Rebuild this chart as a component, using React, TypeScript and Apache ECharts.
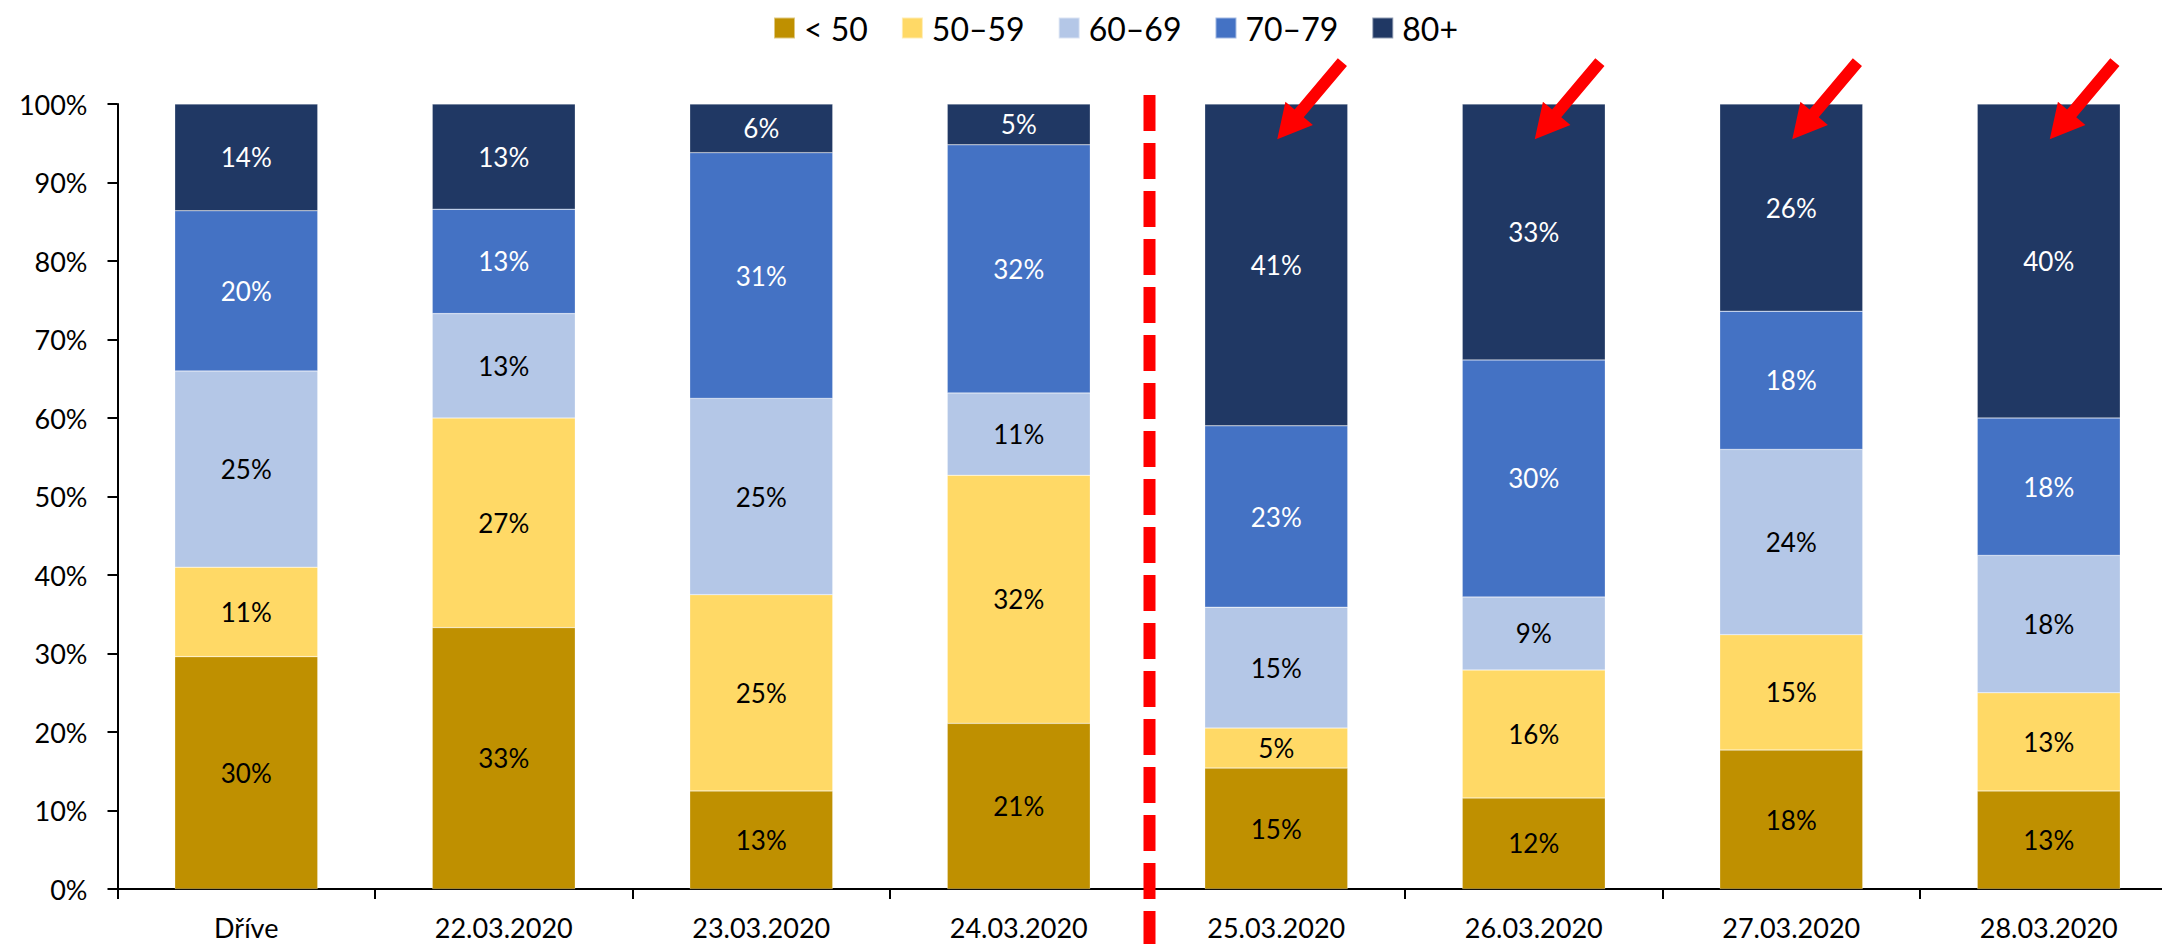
import React, { useEffect, useRef } from "react";
import * as echarts from "echarts";

const categories = ["Dříve", "22.03.2020", "23.03.2020", "24.03.2020", "25.03.2020", "26.03.2020", "27.03.2020", "28.03.2020"];
const seriesNames = ["< 50", "50–59", "60–69", "70–79", "80+"];
const lt50 = [29.6, 33.3, 12.5, 21.1, 15.4, 11.6, 17.7, 12.5];
const s5059 = [11.4, 26.7, 25.0, 31.6, 5.1, 16.3, 14.7, 12.5];
const s6069 = [25.0, 13.3, 25.0, 10.5, 15.4, 9.3, 23.6, 17.5];
const s7079 = [20.4, 13.3, 31.3, 31.6, 23.1, 30.2, 17.6, 17.5];
const s80 = [13.6, 13.4, 6.2, 5.2, 41.0, 32.6, 26.4, 40.0];
const yTicks = [0, 10, 20, 30, 40, 50, 60, 70, 80, 90, 100];
const arrowCats = [4, 5, 6, 7];
const arrowValue = 95.5;
const dividerAfter = 3;

const colors = ["#BF9000", "#FFD966", "#B4C7E7", "#4472C4", "#203864"];
const labelColors = ["#000", "#000", "#000", "#fff", "#fff"];
const FONT = "Lato, 'Open Sans', sans-serif";

export default function App() {
  const ref = useRef<HTMLDivElement>(null);
  useEffect(() => {
    if (!ref.current) return;
    const chart = echarts.init(ref.current, null, { renderer: "svg" });
    const data = [lt50, s5059, s6069, s7079, s80];
    chart.setOption({
      animation: false,
      textStyle: { fontFamily: FONT },
      legend: {
        left: 773,
        top: 12,
        padding: 0,
        itemWidth: 21,
        itemHeight: 21,
        itemGap: 33,
        icon: "rect",
        textStyle: { fontSize: 32, color: "#000", fontFamily: FONT, padding: [0, 0, 0, 4] },
        data: seriesNames,
      },
      grid: { left: 117.5, top: 104, width: 2060, height: 785, containLabel: false, outerBoundsMode: "none" },
      xAxis: {
        type: "category",
        data: categories,
        axisLine: { lineStyle: { color: "#000", width: 2 } },
        axisTick: { show: true, length: 10, lineStyle: { color: "#000", width: 2 } },
        axisLabel: { fontSize: 27, color: "#000", margin: 25, fontFamily: FONT },
      },
      yAxis: {
        type: "value",
        min: 0,
        max: 100,
        interval: 10,
        splitLine: { show: false },
        axisLine: { show: true, lineStyle: { color: "#000", width: 2 } },
        axisTick: { show: true, length: 10, lineStyle: { color: "#000", width: 2 } },
        axisLabel: {
          fontSize: 27,
          color: "#000",
          margin: 30,
          fontFamily: FONT,
          formatter: (v: number) => (yTicks.includes(v) ? v + "%" : ""),
        },
      },
      series: seriesNames.map((name, i) => ({
        name,
        type: "bar",
        stack: "total",
        barWidth: 143,
        data: data[i],
        itemStyle: { color: colors[i], borderColor: "rgba(255,255,255,0.5)", borderWidth: 0.5 },
        label: {
          show: true,
          position: "inside",
          fontSize: 26,
          fontFamily: FONT,
          color: labelColors[i],
          formatter: (p: any) => Math.round(p.value) + "%",
        },
      })),
    });

    const graphics: any[] = [];
    const p3 = chart.convertToPixel({ gridIndex: 0 }, [dividerAfter, 0]) as number[];
    const p4 = chart.convertToPixel({ gridIndex: 0 }, [dividerAfter + 1, 0]) as number[];
    const dx = (p3[0] + p4[0]) / 2 + 2;
    graphics.push({
      type: "line",
      shape: { x1: dx, y1: 95, x2: dx, y2: 944 },
      style: { stroke: "#FF0000", lineWidth: 12, lineDash: [36, 12], lineCap: "butt" },
      z: 100,
    });

    const ux = 0.645, uy = -0.764;
    const nx = 0.764, ny = 0.645;
    const headLen = 34, headHalf = 18, shaftHalf = 6, totalLen = 101;
    arrowCats.forEach((c) => {
      const t = chart.convertToPixel({ gridIndex: 0 }, [c, arrowValue]) as number[];
      const tx = t[0] + 1, ty = t[1];
      const bx = tx + headLen * ux, by = ty + headLen * uy;
      const ex = tx + totalLen * ux, ey = ty + totalLen * uy;
      const pts = [
        [tx, ty],
        [bx + headHalf * nx, by + headHalf * ny],
        [bx + shaftHalf * nx, by + shaftHalf * ny],
        [ex + shaftHalf * nx, ey + shaftHalf * ny],
        [ex - shaftHalf * nx, ey - shaftHalf * ny],
        [bx - shaftHalf * nx, by - shaftHalf * ny],
        [bx - headHalf * nx, by - headHalf * ny],
      ];
      graphics.push({
        type: "polygon",
        shape: { points: pts },
        style: { fill: "#FF0000" },
        z: 100,
      });
    });
    chart.setOption({ graphic: graphics });

    return () => chart.dispose();
  }, []);

  return (
    <div style={{ position: "fixed", left: 0, top: 0, width: 2162, height: 944, overflow: "hidden", background: "#fff" }}>
      <div ref={ref} style={{ width: 2200, height: 944 }} />
    </div>
  );
}
